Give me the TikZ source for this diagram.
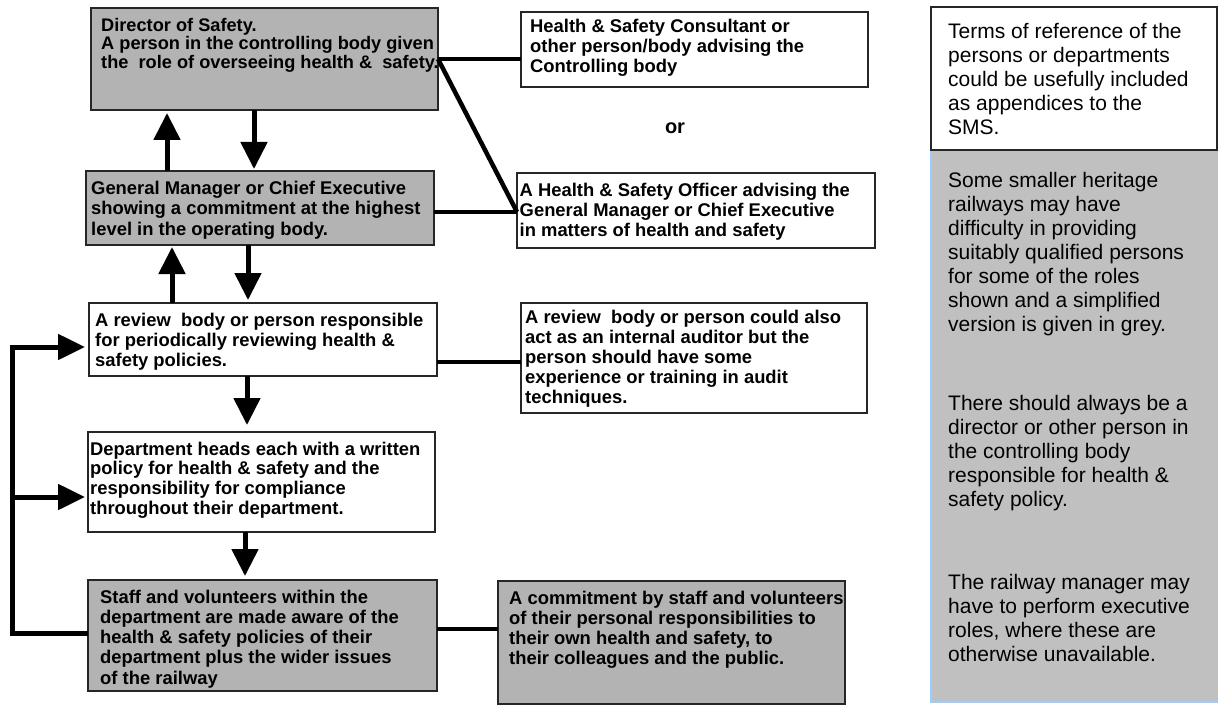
\documentclass[tikz,border=0pt]{standalone}
\usepackage{fontspec}
\setmainfont{Liberation Sans}
\usetikzlibrary{arrows.meta}
\definecolor{boxgray}{RGB}{179,179,179}
\definecolor{panelgray}{RGB}{192,192,192}
\definecolor{edgeblue}{RGB}{153,204,255}
\newcommand{\mystrutA}{\rule{0pt}{14pt}}
\newcommand{\mystrutB}{\rule{0pt}{17pt}}
\begin{document}
\begin{tikzpicture}[x=1pt,y=-1pt,
  box/.style={draw=black!85, line width=1.3pt, rectangle, inner sep=0pt, outer sep=0pt, anchor=north west},
  graybox/.style={box, fill=boxgray},
  whitebox/.style={box, fill=white},
  btxt/.style={anchor=north west, inner sep=0pt, align=left, font=\bfseries\fontsize{18.4}{20}\selectfont},
  ntxt/.style={anchor=north west, inner sep=0pt, align=left, font=\fontsize{21}{24}\selectfont},
  link/.style={line width=4.5pt, draw=black},
  arr/.style={line width=5pt, draw=black, -{Triangle[width=26pt,length=27pt]}},
  sidearr/.style={line width=5pt, line join=miter, draw=black, -{Triangle[width=25pt,length=27pt]}},
]
\useasboundingbox (0,0) rectangle (1218,706);

% right-hand panel
\node[anchor=north west, inner sep=0pt, outer sep=0pt, fill=panelgray, minimum width=287pt, minimum height=552pt] (panel) at (931,150) {};
\draw[edgeblue, line width=2pt] (panel.north west) -- (panel.south west) -- (panel.south east);
\node[whitebox, minimum width=286pt, minimum height=143pt] (terms) at (931,7) {};

% boxes
\node[graybox,  minimum width=347pt, minimum height=102pt] (dir)   at (91,8) {};
\node[whitebox, minimum width=347pt, minimum height=75pt]  (cons)  at (521,12) {};
\node[graybox,  minimum width=348pt, minimum height=74pt]  (gm)    at (86,171) {};
\node[whitebox, minimum width=358pt, minimum height=75pt]  (off)   at (517,173) {};
\node[whitebox, minimum width=348pt, minimum height=73pt]  (rev)   at (89,303) {};
\node[whitebox, minimum width=346pt, minimum height=110pt] (aud)   at (521,303) {};
\node[whitebox, minimum width=347pt, minimum height=100pt] (dept)  at (88,432) {};
\node[graybox,  minimum width=349pt, minimum height=111pt] (staff) at (88,580) {};
\node[graybox,  minimum width=347pt, minimum height=123pt] (comm)  at (498,581) {};

% texts
\node[btxt, font=\bfseries\fontsize{18.2}{18.5}\selectfont] (tdir) at (101,17) {\mystrutA Director of Safety.\\ A person in the controlling body given\\ the\ \ role of overseeing health \&\ \ safety.};
\node[btxt] (tcons) at (530,18) {\mystrutA Health \& Safety Consultant or\\ other person/body advising the\\ Controlling body};
\node[btxt, font=\bfseries\fontsize{18.4}{20.5}\selectfont] (tgm) at (91,180) {\mystrutA General Manager or Chief Executive\\ showing a commitment at the highest\\ level in the operating body.};
\node[btxt] (toff) at (519.5,182.5) {\mystrutA A Health \& Safety Officer advising the\\ General Manager or Chief Executive\\ in matters of health and safety};
\node[btxt] (trev) at (95,312) {\mystrutA A review\ \ body or person responsible\\ for periodically reviewing health \&\\ safety policies.};
\node[btxt] (taud) at (525,309) {\mystrutA A review\ \ body or person could also\\ act as an internal auditor but the\\ person should have some\\ experience or training in audit\\ techniques.};
\node[btxt, font=\bfseries\fontsize{18.4}{19.7}\selectfont] (tdept) at (90,441) {\mystrutA Department heads each with a written\\ policy for health \& safety and the\\ responsibility for compliance\\ throughout their department.};
\node[btxt, font=\bfseries\fontsize{18.4}{20.2}\selectfont] (tstaff) at (100,589) {\mystrutA Staff and volunteers within the\\ department are made aware of the\\ health \& safety policies of their\\ department plus the wider issues\\ of the railway};
\node[btxt] (tcomm) at (509,590) {\mystrutA A commitment by staff and volunteers\\ of their personal responsibilities to\\ their own health and safety, to\\ their colleagues and the public.};
\node[font=\bfseries\fontsize{20}{24}\selectfont, inner sep=0pt] (or) at (675,128) {or};

\node[ntxt] (tterms) at (948,21) {\mystrutB Terms of reference of the\\ persons or departments\\ could be usefully included\\ as appendices to the\\ SMS.};
\node[ntxt] (tg1) at (948,170) {\mystrutB Some smaller heritage\\ railways may have\\ difficulty in providing\\ suitably qualified persons\\ for some of the roles\\ shown and a simplified\\ version is given in grey.};
\node[ntxt] (tg2) at (948,393.5) {\mystrutB There should always be a\\ director or other person in\\ the controlling body\\ responsible for health \&\\ safety policy.};
\node[ntxt] (tg3) at (948,572.5) {\mystrutB The railway manager may\\ have to perform executive\\ roles, where these are\\ otherwise unavailable.};

% helper coordinates
\coordinate (xa) at (167,0);
\coordinate (xb) at (254,0);
\coordinate (xc) at (172,0);
\coordinate (xd) at (248,0);
\coordinate (xe) at (247,0);
\coordinate (xf) at (245,0);
\coordinate (l1) at (0,59);
\coordinate (l2) at (0,212);
\coordinate (l3) at (0,362);
\coordinate (l4) at (0,629);
\coordinate (fb1) at (12,633);
\coordinate (fb2) at (12,347);
\coordinate (fb3) at (12,497);

% vertical arrows
\draw[arr, shorten >=3pt] (gm.north -| xa) -- (dir.south -| xa);
\draw[arr, shorten >=2pt] (dir.south -| xb) -- (gm.north -| xb);
\draw[arr, shorten >=2pt] (rev.north -| xc) -- (gm.south -| xc);
\draw[arr, shorten >=3pt] (gm.south -| xd) -- (rev.north -| xd);
\draw[arr, shorten >=7pt] (rev.south -| xe) -- (dept.north -| xe);
\draw[arr, shorten >=4pt] (dept.south -| xf) -- (staff.north -| xf);

% feedback loop
\draw[sidearr, shorten >=4pt] (staff.west |- fb1) -- (fb1) -- (fb2) -- (rev.west |- fb2);
\draw[sidearr, shorten >=3pt] (fb3) -- (dept.west |- fb3);

% links
\draw[link] (dir.east |- l1) -- (cons.west |- l1);
\draw[link] (dir.east |- l1) -- (off.west |- l2);
\draw[link] (gm.east |- l2) -- (off.west |- l2);
\draw[link] (rev.east |- l3) -- (aud.west |- l3);
\draw[link] (staff.east |- l4) -- (comm.west |- l4);
\end{tikzpicture}
\end{document}
